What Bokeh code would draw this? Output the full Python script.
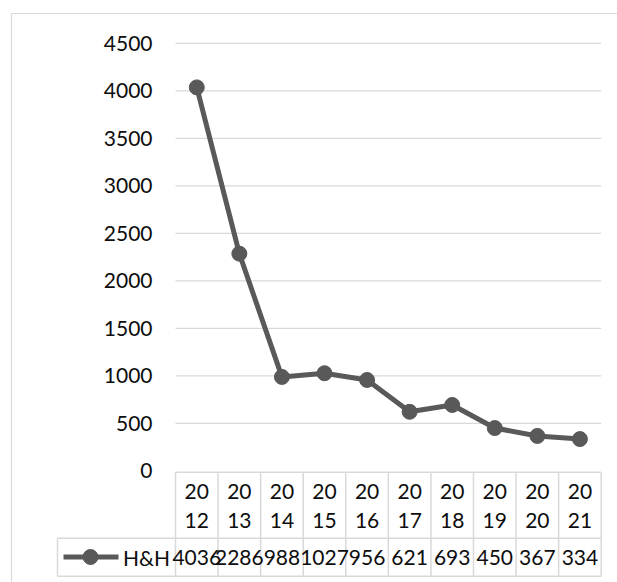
from bokeh.plotting import figure
from bokeh.models import Range1d
from bokeh.core.properties import value
from bokeh.embed import file_html
from bokeh.resources import INLINE

# ---- data ----
years = ["2012", "2013", "2014", "2015", "2016", "2017", "2018", "2019", "2020", "2021"]
hh_values = [4036, 2286, 988, 1027, 956, 621, 693, 450, 367, 334]
y_ticks = [0, 500, 1000, 1500, 2000, 2500, 3000, 3500, 4000, 4500]
series_name = "H&H"

# ---- layout (page pixels -> data coordinates) ----
W, H = 617, 582
OFF = 0
PLOT_L, PLOT_R = 175.0, 600.7
COLW = (PLOT_R - PLOT_L) / len(years)
ZERO_Y = 470.3
PX_PER_UNIT = 0.095


def xd(X):
    return (X - PLOT_L) / COLW - 0.5


def yd(Y):
    return (ZERO_Y - Y) / PX_PER_UNIT


FONT = value("Lato")
FS = "21px"
GRID = "#d9d9d9"
LINE = "#595959"
TXT = "#0d0d0d"

p = figure(width=W, height=H, output_backend="svg", toolbar_location=None,
           x_axis_type=None, y_axis_type=None,
           x_range=Range1d(xd(OFF), xd(OFF + W)),
           y_range=Range1d(yd(OFF + H), yd(OFF)),
           min_border=0, outline_line_color=None)
p.grid.visible = False
p.background_fill_color = "white"
p.border_fill_color = "white"

# outer chart border (left and top visible)
p.segment(x0=[xd(11), xd(11)], y0=[yd(13), yd(13)],
          x1=[xd(OFF + W + 5), xd(11)], y1=[yd(13), yd(OFF + H + 5)],
          line_color=GRID, line_width=1.2)

# gridlines
n = len(years)
gt = [t for t in y_ticks if t > 0]
p.segment(x0=[-0.5] * len(gt), y0=gt, x1=[n - 0.5] * len(gt), y1=gt,
          line_color=GRID, line_width=1.3)

# y tick labels
p.text(x=[xd(152)] * len(y_ticks), y=y_ticks, text=[str(t) for t in y_ticks],
       text_font=FONT, text_font_size=FS, text_color=TXT,
       text_align="right", text_baseline="middle")

# series
xs = list(range(n))
p.line(xs, hh_values, line_color=LINE, line_width=5)
p.scatter(xs, hh_values, marker="circle", size=15, fill_color=LINE, line_color=LINE)

# ---- data table ----
T_TOP, T_MID, T_BOT = 471.7, 537.7, 575.7
LEG_L = 57.0
hx0 = [-0.5, xd(LEG_L), xd(LEG_L)]
hx1 = [n - 0.5, n - 0.5, n - 0.5]
hy = [yd(T_TOP), yd(T_MID), yd(T_BOT)]
p.segment(x0=hx0, y0=hy, x1=hx1, y1=hy, line_color=GRID, line_width=1.5)
vx = [k - 0.5 for k in range(n + 1)]
p.segment(x0=vx, y0=[yd(T_TOP)] * len(vx), x1=vx, y1=[yd(T_BOT)] * len(vx),
          line_color=GRID, line_width=1.5)
p.segment(x0=[xd(LEG_L)], y0=[yd(T_MID)], x1=[xd(LEG_L)], y1=[yd(T_BOT)],
          line_color=GRID, line_width=1.5)

# header (years split into two lines)
p.text(x=xs, y=[yd(490.5)] * n, text=[y[:2] for y in years],
       text_font=FONT, text_font_size=FS, text_color=TXT,
       text_align="center", text_baseline="middle")
p.text(x=xs, y=[yd(520.3)] * n, text=[y[2:] for y in years],
       text_font=FONT, text_font_size=FS, text_color=TXT,
       text_align="center", text_baseline="middle")

# values row
p.text(x=xs, y=[yd(556.5)] * n, text=[str(v) for v in hh_values],
       text_font=FONT, text_font_size=FS, text_color=TXT,
       text_align="center", text_baseline="middle")

# legend key in table
p.segment(x0=[xd(63)], y0=[yd(556.5)], x1=[xd(118)], y1=[yd(556.5)],
          line_color=LINE, line_width=5)
p.scatter(x=[xd(90)], y=[yd(556.5)], marker="circle", size=15,
          fill_color=LINE, line_color=LINE)
p.text(x=[xd(122.5)], y=[yd(556.5)], text=[series_name],
       text_font=FONT, text_font_size=FS, text_color=TXT,
       text_align="left", text_baseline="middle")

open("out.html", "w").write(file_html(p, INLINE))
